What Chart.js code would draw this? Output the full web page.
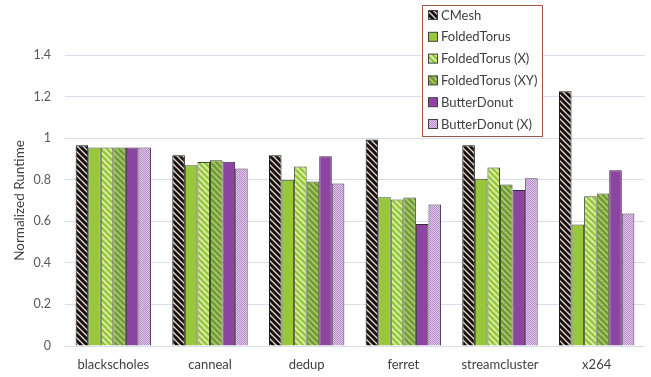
<!DOCTYPE html>
<html>
<head>
<meta charset="utf-8">
<script src="https://cdn.jsdelivr.net/npm/chart.js@4/dist/chart.umd.min.js"></script>
<style>
  html, body { margin: 0; padding: 0; background: #fff; }
  #wrap { width: 651px; height: 377px; }
</style>
</head>
<body>
<div id="wrap"><canvas id="runtimeChart" width="651" height="377"></canvas></div>
<script>
// benchmark names along the x axis
const benchmarks = ['blackscholes', 'canneal', 'dedup', 'ferret', 'streamcluster', 'x264'];

// normalized runtime per topology
const cmesh        = [0.966, 0.918, 0.918, 0.994, 0.966, 1.226];
const foldedTorus  = [0.955, 0.870, 0.800, 0.716, 0.805, 0.585];
const foldedTorusX = [0.955, 0.885, 0.864, 0.705, 0.859, 0.721];
const foldedTorusXY= [0.955, 0.894, 0.792, 0.715, 0.777, 0.734];
const butterDonut  = [0.955, 0.886, 0.913, 0.587, 0.750, 0.846];
const butterDonutX = [0.955, 0.854, 0.782, 0.681, 0.807, 0.638];

const yTicks = [0, 0.2, 0.4, 0.6, 0.8, 1, 1.2, 1.4];
const yTickLabels = ['0', '0.2', '0.4', '0.6', '0.8', '1', '1.2', '1.4'];

const FONT = 'Lato, "Open Sans", sans-serif';

// small canvas tiles used as bar fills
function stripes(bg, fg, size, width) {
    const c = document.createElement('canvas');
    c.width = size; c.height = size;
    const g = c.getContext('2d');
    g.fillStyle = bg;
    g.fillRect(0, 0, size, size);
    g.strokeStyle = fg;
    g.lineWidth = width;
    // "\" direction stripes, drawn over the tile edges so they repeat cleanly
    for (let k = -1; k <= 1; k++) {
        g.beginPath();
        g.moveTo(k * size - 1, -1);
        g.lineTo(k * size + size + 1, size + 1);
        g.stroke();
    }
    return g.createPattern(c, 'repeat');
}

function dots(bg, fg) {
    const c = document.createElement('canvas');
    c.width = 2; c.height = 2;
    const g = c.getContext('2d');
    g.fillStyle = bg;
    g.fillRect(0, 0, 2, 2);
    g.fillStyle = fg;
    g.fillRect(0, 0, 1, 1);
    g.fillRect(1, 1, 1, 1);
    return g.createPattern(c, 'repeat');
}

const fills = {
    cmesh: stripes('#f1d6c8', '#111111', 6, 3.0),
    ft: '#98c73a',
    ftX: stripes('#dcefa8', '#94c63a', 6, 2.4),
    ftXY: stripes('#a9c768', '#6f9a35', 6, 2.4),
    bd: '#8c45a0',
    bdX: dots('#e0c8ea', '#b68ac9')
};

// legend drawn inside the plot, top right, like the original figure
const boxLegend = {
    id: 'boxLegend',
    afterDraw(chart) {
        const ctx = chart.ctx;
        const x0 = 422, y0 = 5, w = 120, h = 131;
        ctx.save();
        ctx.fillStyle = '#ffffff';
        ctx.fillRect(x0, y0, w, h);
        ctx.strokeStyle = '#a0584a';
        ctx.lineWidth = 1;
        ctx.strokeRect(x0 + 0.5, y0 + 0.5, w, h);
        ctx.font = '13px ' + FONT;
        ctx.textBaseline = 'middle';
        chart.data.datasets.forEach((ds, i) => {
            const cy = 15 + i * 21.8;
            ctx.fillStyle = ds.backgroundColor;
            ctx.fillRect(428, cy - 4.5, 9, 9);
            ctx.strokeStyle = '#404040';
            ctx.strokeRect(428.5, cy - 4.5, 9, 9);
            ctx.fillStyle = '#404040';
            ctx.fillText(ds.label, 441, cy + 0.5);
        });
        ctx.restore();
    }
};

function series(label, data, fill, border) {
    return {
        label: label,
        data: data,
        backgroundColor: fill,
        borderColor: border,
        borderWidth: 1,
        borderSkipped: 'bottom'
    };
}

const ctx = document.getElementById('runtimeChart').getContext('2d');
new Chart(ctx, {
    type: 'bar',
    data: {
        labels: benchmarks,
        datasets: [
            series('CMesh', cmesh, fills.cmesh, '#111111'),
            series('FoldedTorus', foldedTorus, fills.ft, '#3f4a2c'),
            series('FoldedTorus (X)', foldedTorusX, fills.ftX, '#3f4a2c'),
            series('FoldedTorus (XY)', foldedTorusXY, fills.ftXY, '#3f4a2c'),
            series('ButterDonut', butterDonut, fills.bd, '#3a2a40'),
            series('ButterDonut (X)', butterDonutX, fills.bdX, '#4a3a50')
        ]
    },
    options: {
        responsive: false,
        animation: false,
        layout: {
            padding: { top: 55, right: 6, left: 12, bottom: 0 }
        },
        datasets: {
            bar: {
                barPercentage: 1,
                categoryPercentage: 0.78
            }
        },
        plugins: {
            legend: { display: false },
            tooltip: { enabled: false }
        },
        scales: {
            x: {
                grid: { display: false, drawTicks: false },
                border: { display: false },
                afterFit: axis => {
                    axis.height = 31;
                },
                ticks: {
                    color: '#404040',
                    font: { family: FONT, size: 13 },
                    padding: 11
                }
            },
            y: {
                min: 0,
                max: 1.4,
                afterBuildTicks: axis => {
                    axis.ticks = yTicks.map(v => ({ value: v }));
                },
                afterFit: axis => {
                    axis.width = 53;
                },
                grid: {
                    color: '#d8dfe8',
                    drawTicks: false
                },
                border: { display: false },
                ticks: {
                    color: '#595959',
                    font: { family: FONT, size: 12.5 },
                    padding: 14,
                    callback: (v, i) => yTickLabels[i]
                },
                title: {
                    display: true,
                    text: 'Normalized Runtime',
                    color: '#404040',
                    font: { family: FONT, size: 13.5 },
                    padding: { top: 0, bottom: 0 }
                }
            }
        }
    },
    plugins: [boxLegend]
});
</script>
</body>
</html>
